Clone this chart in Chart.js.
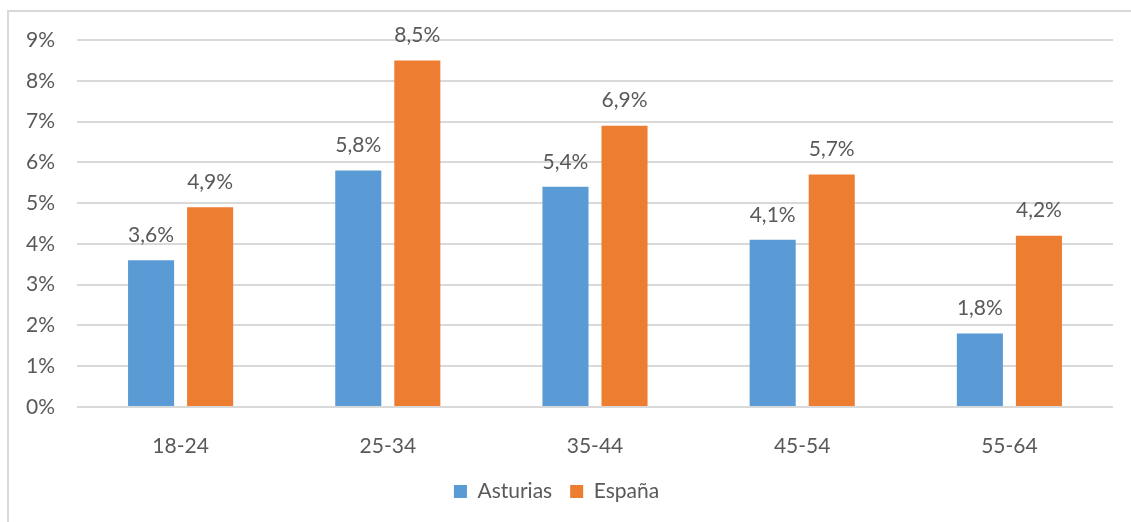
<!DOCTYPE html>
<html>
<head>
<meta charset="utf-8">
<script src="https://cdn.jsdelivr.net/npm/chart.js@4"></script>
<style>
  html, body { margin: 0; padding: 0; background: #fff; }
  #wrap { position: relative; width: 1131px; height: 522px; }
</style>
</head>
<body>
<div id="wrap"><canvas id="barChart" width="1131" height="522"></canvas></div>
<script>
const ageGroups = ["18-24", "25-34", "35-44", "45-54", "55-64"];
const asturias = [3.6, 5.8, 5.4, 4.1, 1.8];
const espana = [4.9, 8.5, 6.9, 5.7, 4.2];

const textColor = "#595959";
const gridColor = "#d9d9d9";
const fontFamily = "Lato, 'Open Sans', sans-serif";
const fontSize = 21;

// frame around the chart, like the spreadsheet export
const framePlugin = {
    id: "frame",
    beforeDraw(chart) {
        const c = chart.ctx;
        c.save();
        c.fillStyle = "#fff";
        c.fillRect(0, 0, chart.width, chart.height);
        c.strokeStyle = gridColor;
        c.lineWidth = 2;
        c.beginPath();
        c.moveTo(8, chart.height + 5);
        c.lineTo(8, 11);
        c.lineTo(chart.width + 5, 11);
        c.stroke();
        c.restore();
    }
};

// value labels above each bar, with comma decimal
const valueLabels = {
    id: "valueLabels",
    afterDatasetsDraw(chart) {
        const c = chart.ctx;
        c.save();
        c.font = fontSize + "px " + fontFamily;
        c.fillStyle = textColor;
        c.textAlign = "center";
        c.textBaseline = "middle";
        chart.data.datasets.forEach((ds, i) => {
            chart.getDatasetMeta(i).data.forEach((bar, j) => {
                const txt = ds.data[j].toFixed(1).replace(".", ",") + "%";
                c.fillText(txt, bar.x, bar.y - 25);
            });
        });
        c.restore();
    }
};

new Chart(document.getElementById("barChart").getContext("2d"), {
    type: "bar",
    data: {
        labels: ageGroups,
        datasets: [
            { label: "Asturias", data: asturias, backgroundColor: "#5b9bd5" },
            { label: "España", data: espana, backgroundColor: "#ed7d31" }
        ]
    },
    options: {
        responsive: false,
        animation: false,
        devicePixelRatio: 1,
        categoryPercentage: 0.57,
        barPercentage: 0.78,
        layout: { padding: { top: 40, right: 18, bottom: 10, left: 0 } },
        plugins: {
            legend: {
                position: "bottom",
                labels: {
                    boxWidth: 13,
                    boxHeight: 13,
                    color: textColor,
                    padding: 18,
                    font: { size: fontSize, family: fontFamily }
                }
            },
            tooltip: { enabled: false }
        },
        scales: {
            x: {
                grid: { display: false },
                border: { display: false },
                ticks: { color: textColor, padding: 19, font: { size: fontSize, family: fontFamily } },
                afterFit(scale) { scale.height = 56; }
            },
            y: {
                min: 0,
                max: 9,
                ticks: {
                    stepSize: 1,
                    color: textColor,
                    padding: 22,
                    font: { size: fontSize, family: fontFamily },
                    callback: v => v + "%"
                },
                grid: { color: gridColor, lineWidth: 2, drawTicks: false },
                border: { display: false },
                afterFit(scale) { scale.width = 77; }
            }
        }
    },
    plugins: [framePlugin, valueLabels]
});
</script>
</body>
</html>
